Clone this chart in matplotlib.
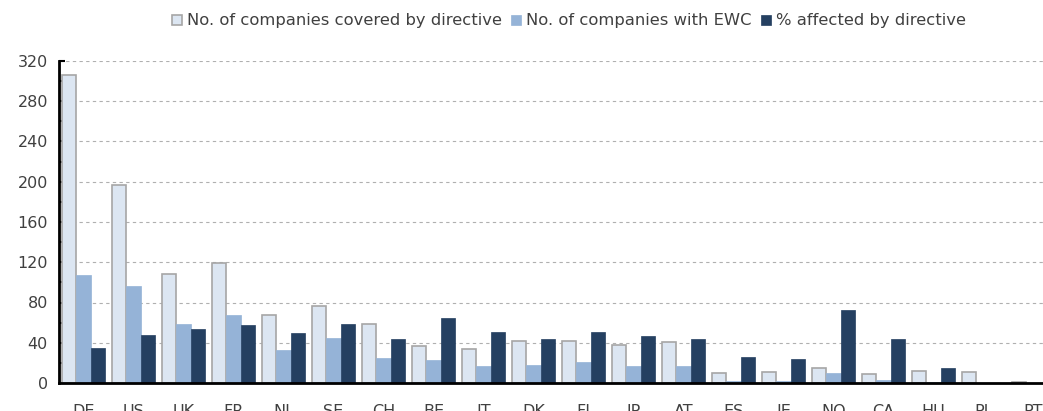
import matplotlib
matplotlib.use("Agg")
import matplotlib.pyplot as plt
import numpy as np
from matplotlib.ticker import MultipleLocator

countries = ["DE", "US", "UK", "FR", "NL", "SE", "CH", "BE", "IT", "DK",
             "FI", "JP", "AT", "ES", "IE", "NO", "CA", "HU", "PL", "PT"]
covered = [306, 197, 108, 119, 68, 77, 59, 37, 34, 42,
           42, 38, 41, 10, 11, 15, 9, 12, 11, 1]
with_ewc = [107, 96, 59, 68, 33, 45, 25, 23, 17, 18,
            21, 17, 17, 2, 2, 10, 3, 1, 0, 0]
pct_affected = [35, 48, 54, 58, 50, 59, 44, 65, 51, 44,
                51, 47, 44, 26, 24, 73, 44, 15, 0, 0]
labels = ["No. of companies covered by directive",
          "No. of companies with EWC",
          "% affected by directive"]

TXT = "#404040"
plt.rcParams["font.family"] = ["DejaVu Sans"]
plt.rcParams["font.size"] = 11.5

fig = plt.figure(figsize=(10.43, 4.11), dpi=100)
ax = fig.add_axes([59/1043, 28/411, 1 - 59/1043, 322/411])

x = np.arange(len(countries))
w = 0.285
b1 = ax.bar(x - w, covered, w, color="#dce6f2", edgecolor="#a6a6a6", linewidth=1.2, label=labels[0])
b2 = ax.bar(x, with_ewc, w, color="#95b3d7", edgecolor="#95b3d7", linewidth=0.5, label=labels[1])
b3 = ax.bar(x + w, pct_affected, w, color="#254061", edgecolor="#254061", linewidth=0.5, label=labels[2])

ax.set_ylim(0, 320)
ax.set_xlim(-0.49, 19.19)
ax.yaxis.set_major_locator(MultipleLocator(40))
ax.yaxis.set_minor_locator(MultipleLocator(20))
ax.grid(axis="y", which="major", color="#b0b0b0", linestyle=(0, (3, 3)), linewidth=0.8)
ax.set_axisbelow(True)
ax.set_xticks(x)
ax.set_xticklabels(countries)
ax.tick_params(axis="x", length=0, pad=15, colors=TXT, labelsize=11.5)
ax.tick_params(axis="y", which="major", direction="in", length=4, width=1.5, pad=8, colors="black", labelcolor=TXT, labelsize=11.5)
ax.tick_params(axis="y", which="minor", direction="in", length=3, width=1.5, colors="black")
for s in ["top", "right"]:
    ax.spines[s].set_visible(False)
for s in ["left", "bottom"]:
    ax.spines[s].set_linewidth(2)
    ax.spines[s].set_color("black")

fig.legend(handles=[b1, b2, b3], labels=labels, loc="center", bbox_to_anchor=(569/1043, 1 - 21/411),
           ncol=3, frameon=False, handlelength=0.6, handleheight=0.6, handletextpad=0.3,
           columnspacing=0.6, labelcolor=TXT, fontsize=11.8)

fig.savefig("out.png", dpi=100)
